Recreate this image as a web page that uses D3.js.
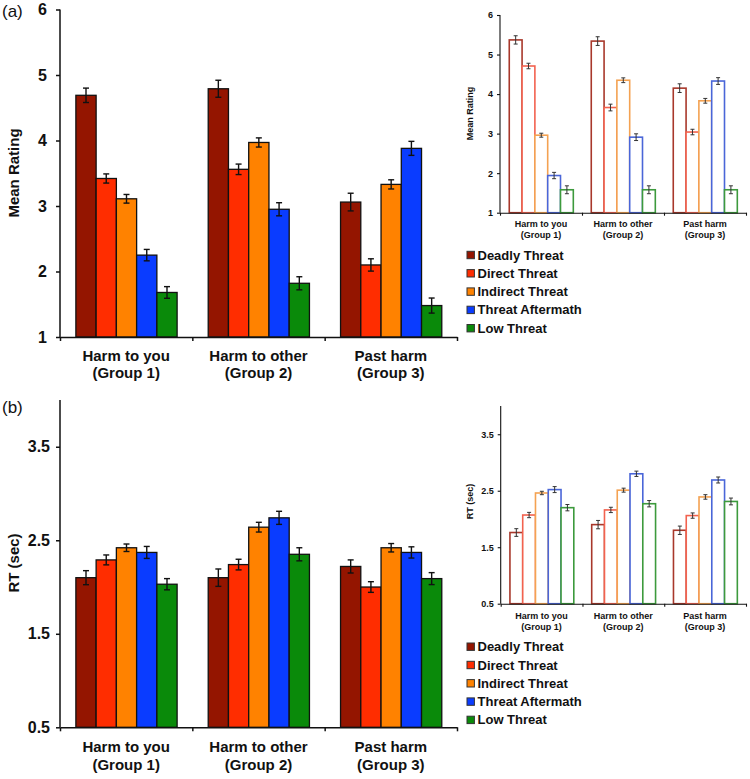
<!DOCTYPE html>
<html><head><meta charset="utf-8">
<script src="https://cdn.jsdelivr.net/npm/d3@7"></script>
<style>body{margin:0;background:#fff}svg{display:block;font-family:Arial,"Liberation Sans",sans-serif}</style>
</head><body>
<svg id="chart" width="750" height="779"></svg>
<script>
const categoryLine1 = ["Harm to you", "Harm to other", "Past harm"];
const categoryLine2 = ["(Group 1)", "(Group 2)", "(Group 3)"];
const seriesNames = ["Deadly Threat", "Direct Threat", "Indirect Threat", "Threat Aftermath", "Low Threat"];
const ratingTicks = [1, 2, 3, 4, 5, 6];
const rtTicks = [0.5, 1.5, 2.5, 3.5];

// values indexed [category][series]
const ratingMain = [[4.69, 3.42, 3.11, 2.25, 1.68], [4.79, 3.56, 3.97, 2.95, 1.82], [3.06, 2.10, 3.33, 3.88, 1.48]];
const ratingMainErr = [[0.11, 0.07, 0.066, 0.087, 0.089], [0.13, 0.08, 0.07, 0.10, 0.10], [0.135, 0.094, 0.07, 0.107, 0.115]];
const ratingInset = [[5.37, 4.71, 2.96, 1.94, 1.58], [5.34, 3.66, 4.35, 2.91, 1.58], [4.15, 3.04, 3.83, 4.33, 1.58]];
const ratingInsetErr = [[0.105, 0.07, 0.05, 0.08, 0.1], [0.11, 0.085, 0.06, 0.085, 0.1], [0.11, 0.07, 0.06, 0.085, 0.1]];
const rtMain = [[2.10, 2.29, 2.42, 2.37, 2.03], [2.10, 2.24, 2.64, 2.74, 2.35], [2.22, 2.00, 2.42, 2.37, 2.09]];
const rtMainErr = [[0.075, 0.053, 0.04, 0.064, 0.06], [0.093, 0.057, 0.052, 0.07, 0.07], [0.07, 0.057, 0.045, 0.06, 0.064]];
const rtInset = [[1.76, 2.07, 2.46, 2.52, 2.20], [1.90, 2.16, 2.51, 2.80, 2.27], [1.80, 2.06, 2.39, 2.69, 2.31]];
const rtInsetErr = [[0.068, 0.047, 0.03, 0.053, 0.056], [0.074, 0.047, 0.035, 0.047, 0.056], [0.074, 0.047, 0.04, 0.053, 0.06]];

const fillColors = ["#941500", "#ff2d00", "#ff8200", "#0a3cff", "#0a8a0a"];
const outlineColors = ["#a8382b", "#f2624f", "#f4a252", "#4a66d8", "#3d9a3d"];

const svg = d3.select("#chart");

function drawPanel(cfg) {
  const g = svg.append("g");
  const x = d3.scaleBand().domain(d3.range(3)).range([cfg.x0, cfg.x1]).padding(0);
  const bw = x.bandwidth();
  const xs = d3.scaleBand().domain(d3.range(5)).range([bw * cfg.inStart, bw * cfg.inEnd]).padding(0);
  const y = d3.scaleLinear().domain(cfg.domain).range([cfg.yBottom, cfg.yTop]);
  const main = cfg.kind === "main";

  const rows = [];
  cfg.values.forEach((arr, ci) => arr.forEach((v, si) => rows.push({ci, si, v, e: cfg.errs[ci][si]})));

  g.selectAll("rect.bar").data(rows).join("rect")
    .attr("class", "bar")
    .attr("x", d => x(d.ci) + xs(d.si))
    .attr("width", xs.bandwidth())
    .attr("y", d => y(d.v))
    .attr("height", d => y(cfg.domain[0]) - y(d.v))
    .attr("fill", d => main ? fillColors[d.si] : "#fff")
    .attr("stroke", d => main ? "#111" : outlineColors[d.si])
    .attr("stroke-width", main ? 1.3 : 1.6);

  const cap = main ? 3 : 2;
  const eg = g.selectAll("g.err").data(rows).join("g").attr("class", "err")
    .attr("stroke", main ? "#111" : "#333").attr("stroke-width", main ? 1.4 : 1);
  eg.append("line")
    .attr("x1", d => x(d.ci) + xs(d.si) + xs.bandwidth() / 2)
    .attr("x2", d => x(d.ci) + xs(d.si) + xs.bandwidth() / 2)
    .attr("y1", d => y(d.v + d.e)).attr("y2", d => y(d.v - d.e));
  eg.append("line")
    .attr("x1", d => x(d.ci) + xs(d.si) + xs.bandwidth() / 2 - cap)
    .attr("x2", d => x(d.ci) + xs(d.si) + xs.bandwidth() / 2 + cap)
    .attr("y1", d => y(d.v + d.e)).attr("y2", d => y(d.v + d.e));
  eg.append("line")
    .attr("x1", d => x(d.ci) + xs(d.si) + xs.bandwidth() / 2 - cap)
    .attr("x2", d => x(d.ci) + xs(d.si) + xs.bandwidth() / 2 + cap)
    .attr("y1", d => y(d.v - d.e)).attr("y2", d => y(d.v - d.e));

  // y axis
  const ya = g.append("g").attr("transform", `translate(${cfg.x0},0)`)
    .call(d3.axisLeft(y).tickValues(cfg.ticks).tickFormat(cfg.fmt).tickSize(main ? 4 : 3).tickPadding(cfg.tickPad));
  ya.select(".domain").attr("stroke", "#111").attr("stroke-width", main ? 1.5 : 1.1)
    .attr("d", `M0,${cfg.yTop}V${cfg.yBottom}`);
  ya.selectAll(".tick line").attr("stroke", "#111").attr("stroke-width", main ? 1.5 : 1.1);
  ya.selectAll(".tick text").attr("fill", "#111").style("font-size", cfg.tickFont + "px").style("font-weight", "bold")
    .style("font-family", "Arial, 'Liberation Sans', sans-serif");

  // x axis with ticks at category boundaries
  const xb = d3.scaleLinear().domain([0, 3]).range([cfg.x0, cfg.x1]);
  const xa = g.append("g").attr("transform", `translate(0,${cfg.yBottom})`)
    .call(d3.axisBottom(xb).tickValues([0, 1, 2, 3]).tickFormat("").tickSize(main ? 4 : 3).tickSizeOuter(0));
  xa.select(".domain").attr("stroke", "#111").attr("stroke-width", main ? 1.5 : 1.1);
  xa.selectAll(".tick line").attr("stroke", "#111").attr("stroke-width", main ? 1.5 : 1.1);

  // category labels
  const lab = g.selectAll("g.cat").data(d3.range(3)).join("g").attr("class", "cat")
    .attr("font-weight", "bold").attr("font-size", cfg.catFont).attr("text-anchor", "middle").attr("fill", "#111");
  lab.append("text").attr("x", d => x(d) + bw / 2).attr("y", cfg.yBottom + cfg.cat1).text(d => categoryLine1[d]);
  lab.append("text").attr("x", d => x(d) + bw / 2).attr("y", cfg.yBottom + cfg.cat2).text(d => categoryLine2[d]);

  // y label
  g.append("text").attr("transform", `translate(${cfg.ylx},${cfg.yly}) rotate(-90)`)
    .attr("text-anchor", "middle").attr("dominant-baseline", "central")
    .attr("font-weight", "bold").attr("font-size", cfg.ylFont).attr("fill", "#111").text(cfg.ylabel);
}

function drawLegend(x0, y0, step) {
  const lg = svg.append("g").attr("transform", `translate(${x0},${y0})`);
  const it = lg.selectAll("g").data(seriesNames).join("g").attr("transform", (d, i) => `translate(0,${i * step})`);
  it.append("rect").attr("x", 0).attr("y", -3.7).attr("width", 7.4).attr("height", 7.4)
    .attr("fill", (d, i) => fillColors[i]).attr("stroke", "#333").attr("stroke-width", 1);
  it.append("text").attr("x", 10.5).attr("y", 0).attr("dominant-baseline", "central")
    .attr("font-weight", "bold").attr("font-size", 13).attr("fill", "#111").text(d => d);
}

const fmtInt = d3.format("d"), fmtOne = d3.format(".1f");

drawPanel({kind: "main", x0: 60, x1: 457, yTop: 9.5, yBottom: 337, domain: [1, 6], ticks: ratingTicks, fmt: fmtInt,
  values: ratingMain, errs: ratingMainErr, inStart: 0.12, inEnd: 0.885, tickPad: 9, tickFont: 16,
  catFont: 15, cat1: 24, cat2: 41, ylabel: "Mean Rating", ylx: 13, yly: 173, ylFont: 15});
drawPanel({kind: "main", x0: 60, x1: 457, yTop: 400, yBottom: 727.3, domain: [0.5, 4], ticks: rtTicks, fmt: fmtOne,
  values: rtMain, errs: rtMainErr, inStart: 0.12, inEnd: 0.885, tickPad: 6, tickFont: 16,
  catFont: 15, cat1: 24.5, cat2: 42.5, ylabel: "RT (sec)", ylx: 13, yly: 563, ylFont: 15});
drawPanel({kind: "inset", x0: 500, x1: 746, yTop: 15, yBottom: 212.7, domain: [1, 6], ticks: ratingTicks, fmt: fmtInt,
  values: ratingInset, errs: ratingInsetErr, inStart: 0.113, inEnd: 0.894, tickPad: 4, tickFont: 9,
  catFont: 9, cat1: 14.5, cat2: 25.5, ylabel: "Mean Rating", ylx: 470, yly: 113.5, ylFont: 9});
drawPanel({kind: "inset", x0: 500.7, x1: 746, yTop: 406, yBottom: 603.7, domain: [0.5, 4], ticks: rtTicks, fmt: fmtOne,
  values: rtInset, errs: rtInsetErr, inStart: 0.113, inEnd: 0.894, tickPad: 4, tickFont: 9,
  catFont: 9, cat1: 14.8, cat2: 25.8, ylabel: "RT (sec)", ylx: 470, yly: 501.5, ylFont: 9});

drawLegend(467, 255, 18.3);
drawLegend(467, 646.7, 18.3);

svg.append("text").attr("x", 2).attr("y", 17).attr("font-size", 17).attr("fill", "#111").text("(a)");
svg.append("text").attr("x", 2).attr("y", 413).attr("font-size", 17).attr("fill", "#111").text("(b)");
</script>
</body></html>
